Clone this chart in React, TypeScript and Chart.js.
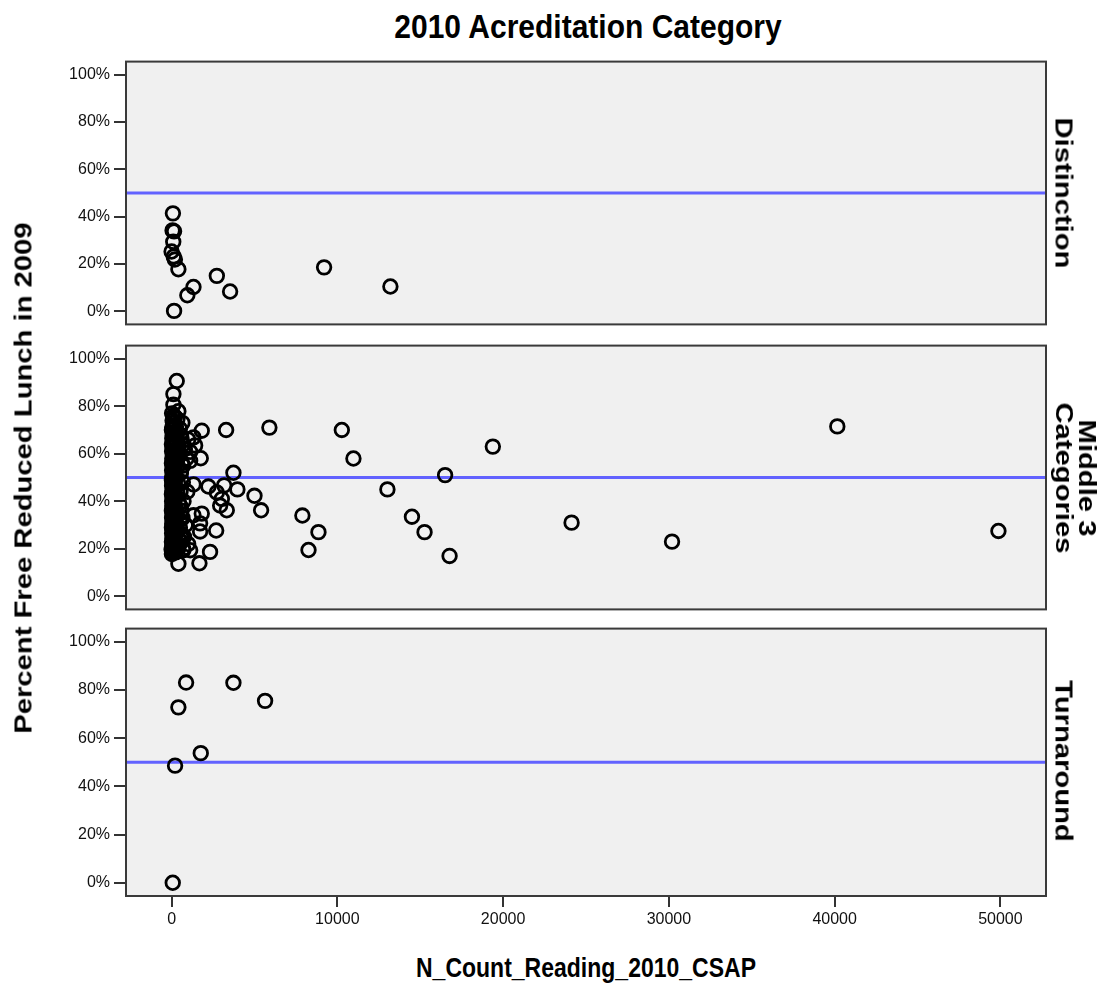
import React, { useEffect, useRef } from "react";
import { Chart, registerables } from "chart.js";

Chart.register(...registerables);

// ---------- data ----------
const chartTitle = "2010 Acreditation Category";
const xAxisTitle = "N_Count_Reading_2010_CSAP";
const yAxisTitle = "Percent Free Reduced Lunch in 2009";
const panelLabels = ["Distinction", "Middle 3\nCategories", "Turnaround"];
const yTickValues = [0, 20, 40, 60, 80, 100];
const xTickValues = [0, 10000, 20000, 30000, 40000, 50000];
const referenceValue = 50;

const distinctionX = [80, 60, 150, 100, 0, 130, 200, 410, 1320, 950, 150, 2730, 3530, 9200, 13200];
const distinctionY = [41.4, 34.2, 33.8, 29.4, 25.3, 23.2, 21.9, 17.8, 10.3, 6.8, 0.2, 15, 8.4, 18.6, 10.5];

const middleX = [
  40160, 49880, 30190, 24130, 19380, 16500, 16770, 15260, 14500, 13020, 10970, 10270, 8860, 8260, 7890,
  5900, 5400, 5000, 3970, 3730, 3290, 3330, 3170, 3030, 2930, 2730, 2690, 2320, 2220, 1820, 1820, 1760,
  1720, 1720, 1680, 1420, 1320, 1320, 1320, 1120, 1120, 1120, 710, 410, 310, 110, 110, 410, 0,
  1000, 900, 800, 700, 950, 850, 750, 1000,
  30, 120, 200, 60, 350, 90, 150, 40, 260, 500, 20, 110, 180, 70, 300, 40, 140, 600, 90, 230, 20, 160,
  60, 380, 120, 30, 210, 80, 450, 150, 40, 270, 100, 20, 180, 60, 330, 130, 30, 220, 80, 550, 160, 40,
  290, 110, 20, 190, 70, 400, 140, 30, 240, 90, 50, 170, 350, 20, 120, 280, 60, 200, 30, 100, 460, 150,
  40, 250, 80, 20, 180, 60, 320, 130, 30, 220, 90, 500, 160, 40, 270, 110, 20, 200, 70, 380, 140, 30,
  240, 90, 50, 170, 600, 20, 120, 300, 60, 200, 30, 100, 420, 150, 60, 250, 20,
  650, 520, 700, 480, 620, 560, 680, 540, 720, 600, 660, 500, 640, 580, 700, 530,
];
const middleY = [
  71.5, 27.5, 23, 31, 63, 51, 17, 27, 33.5, 45, 58, 70, 27, 19.5, 34,
  71, 36.2, 42.3, 45, 52, 70, 36.2, 46.7, 41, 38.2, 43.7, 27.7, 18.7, 46.2, 69.7, 34.8, 58.1,
  30.7, 27.3, 13.9, 63.5, 66.9, 47.1, 34.1, 60.8, 57, 19.4, 19.4, 13.7, 90.6, 85.1, 80.6, 77.9, 19.8,
  66, 58, 62, 55, 44, 30, 25, 22,
  77, 76, 75.5, 74, 74.5, 73, 72, 71, 71.5, 70.5, 70, 69, 68.5, 68, 67.5, 66.5, 66, 66.5, 65, 64.5, 64, 63,
  62.5, 62, 61.5, 61, 60.5, 59.5, 59, 58.5, 58, 57.5, 57, 56, 55.5, 55, 54.5, 54, 53, 52.5, 52, 52, 51, 50.5,
  50, 49.5, 49, 48.5, 48, 47.5, 47, 46.5, 46, 45, 44.5, 44, 43.5, 43, 42.5, 42, 41.5, 41, 40, 39.5, 39, 38.5,
  38, 37.5, 37, 36, 35.5, 35, 34.5, 34, 33, 32.5, 32, 32, 31, 30.5, 30, 29.5, 29, 28.5, 28, 27.5, 27, 26.5,
  26, 25, 24.5, 24, 24.5, 23, 22.5, 22, 21.5, 21, 20.5, 20, 20.5, 19.5, 18.5, 18.5, 17.8,
  73, 68, 64, 60, 56, 52, 48, 44, 40, 36, 33, 29, 26, 23, 20, 38,
];

const turnaroundX = [875, 3730, 410, 5640, 1760, 210, 70];
const turnaroundY = [83.1, 83, 72.8, 75.5, 53.8, 48.6, 0];

// ---------- layout ----------
const FONT = "'Liberation Sans', Arial, sans-serif";
const X_MIN = -2750;
const X_MAX = 52750;
const Y_MIN = -5.5;
const Y_MAX = 105.5;
const PAD = 10;
const Y_AXIS_W = 126;
const X_AXIS_H = 40;
const RIGHT_PAD = 58;

const panels = [
  { xs: distinctionX, ys: distinctionY, top: 58, h: 270, showX: false, label: panelLabels[0], lx: 1063 },
  { xs: middleX, ys: middleY, top: 342, h: 271, showX: false, label: panelLabels[1], lx: 1075 },
  { xs: turnaroundX, ys: turnaroundY, top: 625, h: 271, showX: true, label: panelLabels[2], lx: 1063 },
];

const panelDecor = {
  id: "panelDecor",
  beforeDraw(chart: any) {
    const { ctx, chartArea: a } = chart;
    ctx.save();
    ctx.fillStyle = "#f0f0f0";
    ctx.fillRect(a.left, a.top, a.right - a.left, a.bottom - a.top);
    ctx.restore();
  },
  beforeDatasetsDraw(chart: any) {
    const { ctx, chartArea: a, scales } = chart;
    const y = scales.y.getPixelForValue(referenceValue);
    ctx.save();
    ctx.strokeStyle = "#6262ff";
    ctx.lineWidth = 3;
    ctx.beginPath();
    ctx.moveTo(a.left, y);
    ctx.lineTo(a.right, y);
    ctx.stroke();
    ctx.restore();
  },
  afterDraw(chart: any) {
    const { ctx, chartArea: a } = chart;
    ctx.save();
    ctx.strokeStyle = "#3a3a3a";
    ctx.lineWidth = 2;
    ctx.strokeRect(a.left, a.top, a.right - a.left, a.bottom - a.top);
    ctx.restore();
  },
};

function Panel(props: { xs: number[]; ys: number[]; showX: boolean; height: number }) {
  const ref = useRef<HTMLCanvasElement | null>(null);
  useEffect(() => {
    if (!ref.current) return;
    const chart = new Chart(ref.current, {
      type: "scatter",
      data: {
        datasets: [
          {
            data: props.xs.map((x, i) => ({ x, y: props.ys[i] })),
            pointRadius: 6.8,
            pointHoverRadius: 6.8,
            pointBorderWidth: 2.8,
            pointBorderColor: "#000",
            pointBackgroundColor: "rgba(0,0,0,0)",
          },
        ],
      },
      options: {
        animation: false,
        responsive: false,
        maintainAspectRatio: false,
        events: [],
        layout: { padding: { top: PAD, right: RIGHT_PAD, bottom: props.showX ? 0 : PAD, left: 0 } },
        plugins: { legend: { display: false }, tooltip: { enabled: false } },
        scales: {
          x: {
            type: "linear",
            min: X_MIN,
            max: X_MAX,
            display: props.showX,
            afterBuildTicks: (s: any) => {
              s.ticks = xTickValues.map((v) => ({ value: v }));
            },
            afterFit: (s: any) => {
              s.height = props.showX ? X_AXIS_H : 0;
            },
            grid: { drawOnChartArea: false, drawTicks: true, tickLength: 11, color: "#333", lineWidth: 2 },
            border: { display: false },
            ticks: {
              font: { family: FONT, size: 16 },
              color: "#111",
              padding: 3,
              maxRotation: 0,
              autoSkip: false,
              callback: (v: any) => String(v),
            },
          },
          y: {
            type: "linear",
            min: Y_MIN,
            max: Y_MAX,
            afterBuildTicks: (s: any) => {
              s.ticks = yTickValues.map((v) => ({ value: v }));
            },
            afterFit: (s: any) => {
              s.width = Y_AXIS_W;
            },
            grid: { drawOnChartArea: false, drawTicks: true, tickLength: 12, color: "#333", lineWidth: 2 },
            border: { display: false },
            ticks: {
              font: { family: FONT, size: 16 },
              color: "#111",
              padding: 4,
              autoSkip: false,
              callback: (v: any) => v + "%",
            },
          },
        },
      },
      plugins: [panelDecor],
    } as any);
    return () => chart.destroy();
  }, []);
  return <canvas ref={ref} width={1104} height={props.height} style={{ display: "block" }} />;
}

export default function App() {
  const textBase: React.CSSProperties = {
    position: "absolute",
    fontFamily: FONT,
    fontWeight: "bold",
    color: "#000",
    whiteSpace: "pre",
    textAlign: "center",
  };
  return (
    <div style={{ position: "absolute", left: 0, top: 0, width: 1104, height: 994, background: "#fff", overflow: "hidden" }}>
      {panels.map((p, i) => {
        const canvasTop = p.top - PAD;
        const canvasH = PAD + p.h + (p.showX ? X_AXIS_H : PAD);
        return (
          <div key={i} style={{ position: "absolute", left: 0, top: canvasTop, width: 1104, height: canvasH }}>
            <Panel xs={p.xs} ys={p.ys} showX={p.showX} height={canvasH} />
          </div>
        );
      })}
      <div style={{ ...textBase, left: 588, top: 27, fontSize: 30, lineHeight: "30px", transform: "translate(-50%,-50%) scaleY(1.08)" }}>
        {chartTitle}
      </div>
      <div
        style={{
          ...textBase,
          left: 586,
          top: 968,
          fontSize: 23,
          lineHeight: "23px",
          transform: "translate(-50%,-50%) scaleY(1.2)",
        }}
      >
        {xAxisTitle}
      </div>
      <div
        style={{
          ...textBase,
          left: 24,
          top: 478,
          fontSize: 23,
          lineHeight: "23px",
          transform: "translate(-50%,-50%) rotate(-90deg) scaleX(1.27)",
        }}
      >
        {yAxisTitle}
      </div>
      {panels.map((p, i) => (
        <div
          key={"l" + i}
          style={{
            ...textBase,
            left: p.lx,
            top: p.top + p.h / 2,
            fontSize: 23,
            lineHeight: "23px",
            transform: "translate(-50%,-50%) rotate(90deg) scaleX(1.27)",
          }}
        >
          {p.label}
        </div>
      ))}
    </div>
  );
}
